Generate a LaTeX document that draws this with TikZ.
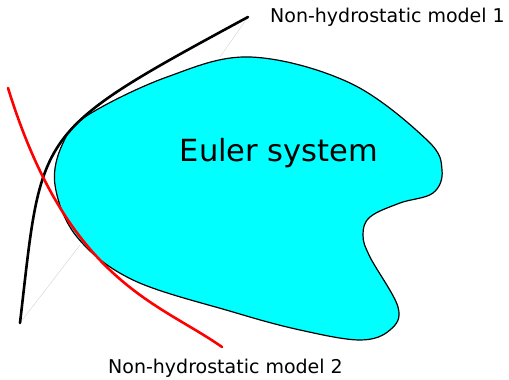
\documentclass[tikz,border=0pt]{standalone}
\usepackage{fontspec}
\setmainfont{DejaVu Sans}
\usetikzlibrary{positioning}
\definecolor{blob}{HTML}{00FFFF}
\tikzset{
  model/.style={line width=2.6pt,line cap=round},
  guide/.style={gray!35,line width=0.4pt},
  lbl/.style={font=\fontsize{19}{22}\selectfont,inner sep=0pt,anchor=west}
}

\begin{document}
\begin{tikzpicture}[x=1pt,y=-1pt]
  \useasboundingbox (0,0) rectangle (509,380);
  % Euler set
  \filldraw[fill=blob,draw=black,line width=1.2pt] plot[smooth cycle,tension=0.6] coordinates{
    (55,185) (63,143) (88,115) (167,77) (250,57) (350,83) (427,140) (442,170)
    (433,193) (400,203) (370,217) (363,235) (370,257) (398,307) (390,330)
    (360,340) (300,330) (233,312) (133,280) (77,237)};
  \node (euler) at (279,153) {\fontsize{30.5}{36}\selectfont Euler system};
  % guide lines
  \coordinate (b0) at (20,323);
  \coordinate (b1) at (248,17);
  \coordinate (r0) at (8,88);
  \coordinate (r1) at (222,347);
  \draw[guide] (b1) -- (220,57);
  \draw[guide] (b0) -- (80,245);
  % model curves
  \draw[model,black] (b0) .. controls (42.5,129.5) and (32,134) .. (b1);
  \draw[model,red] (r0) .. controls (68,282) and (158,302) .. (r1);
  \node[lbl] (nh1) at (270,17) {Non-hydrostatic model 1};
  \node[lbl] (nh2) at (108,368) {Non-hydrostatic model 2};
\end{tikzpicture}
\end{document}
